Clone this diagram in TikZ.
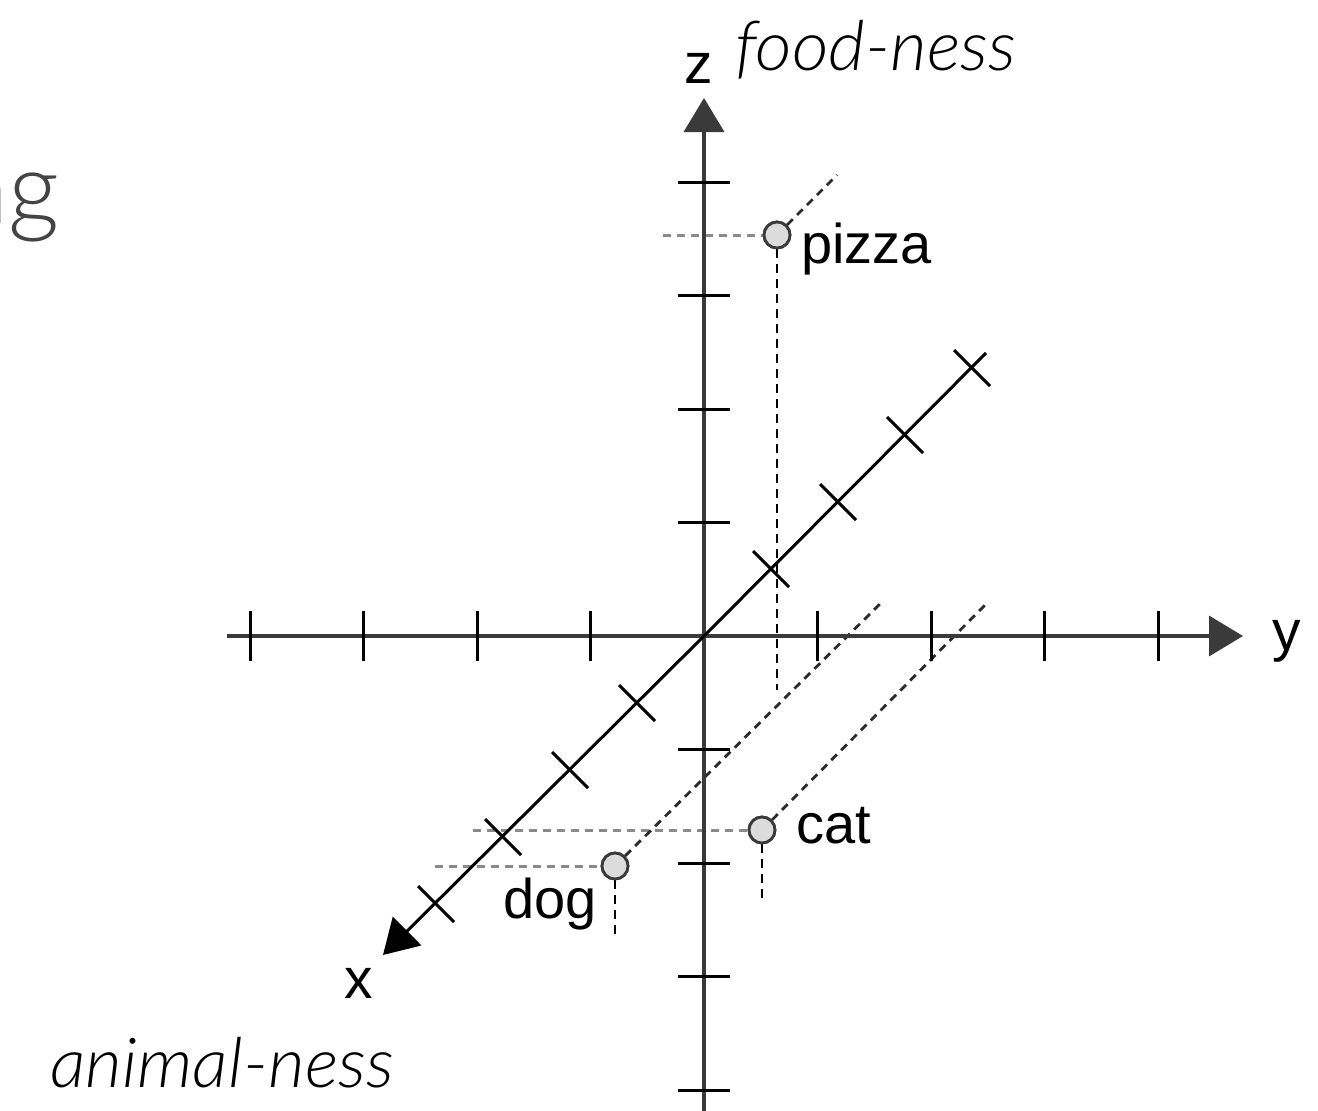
\documentclass[tikz,border=0pt]{standalone}
\usepackage{fontspec}
\setmainfont{Liberation Sans}
\newfontfamily\lightfont{Lato}[UprightFont={* Light}, ItalicFont={* Light Italic}]
\newfontfamily\lightwide{Lato}[UprightFont={* Light}, ItalicFont={* Light Italic}, FakeStretch=1.03]
\usetikzlibrary{arrows.meta,calc}
\definecolor{axisgray}{HTML}{3A3A3A}
\definecolor{hdash}{HTML}{8A8A8A}
\definecolor{ddash}{HTML}{2A2A2A}
\definecolor{ptfill}{HTML}{DCDCDC}
\definecolor{slidegray}{HTML}{444444}
\tikzset{
  axisline/.style={line width=3.8pt, draw=axisgray},
  xaxisline/.style={line width=3pt, draw=black},
  tickmark/.style={line width=3pt, draw=black},
  hdashed/.style={line width=3pt, draw=hdash, dash pattern=on 8pt off 6pt},
  ddashed/.style={line width=2.8pt, draw=ddash, dash pattern=on 8pt off 6pt},
  vdashed/.style={line width=2.8pt, draw=black, dash pattern=on 9pt off 6pt},
  point/.style={circle, draw=axisgray, line width=2.8pt, fill=ptfill, minimum size=26pt, inner sep=0pt},
  lbl/.style={inner sep=0pt, anchor=base west, font=\fontsize{56}{60}\selectfont},
  axlbl/.style={inner sep=0pt, anchor=base west, font=\fontsize{57}{60}\selectfont},
  slidetxt/.style={inner sep=0pt, anchor=base west, font=\fontsize{69}{72}\lightwide\itshape},
  arrowtip/.style={-{Triangle[length=34pt,width=40pt]}}
}
\begin{document}
\begin{tikzpicture}[x=1pt,y=-1pt]
\useasboundingbox (0,0) rectangle (1318,1111);
\begin{scope}
\clip (0,0) rectangle (1318,1111);
% slide fragment
\node[inner sep=0pt, anchor=base east, font=\fontsize{100}{104}\lightfont, text=slidegray] (ng) at (60,223) {ng};

\coordinate (O) at (704,636);
\coordinate (yL) at (227,636);
\coordinate (yR) at (1243,636);
\coordinate (zB) at (704,1120);
\coordinate (zT) at (704,98);
\coordinate (xUR) at (986,353);
\coordinate (xDL) at (383,955);

% data points
\node[point] (pizza) at (777,235) {};
\node[point] (cat) at (762,830) {};
\node[point] (dog) at (615,866) {};
\coordinate (pizzaH) at (663,235);
\coordinate (pizzaD) at (837,175);
\coordinate (pizzaV) at (777,690);
\coordinate (catH) at (473,830);
\coordinate (catD) at (988,602);
\coordinate (catV) at (762,900);
\coordinate (dogH) at (435,866);
\coordinate (dogD) at (882,602);
\coordinate (dogV) at (615,936);

\draw[hdashed] (pizzaH) -- (pizza.west);
\draw[ddashed] (pizza.north east) -- (pizzaD);
\draw[vdashed] (pizza.south) -- (pizzaV);
\draw[hdashed] (catH) -- (cat.west);
\draw[ddashed] (cat.north east) -- (catD);
\draw[vdashed] (cat.south) -- (catV);
\draw[hdashed] (dogH) -- (dog.west);
\draw[ddashed] (dog.north east) -- (dogD);
\draw[vdashed] (dog.south) -- (dogV);

% axes
\draw[axisline, arrowtip] (yL) -- (yR);
\draw[axisline, arrowtip] (zB) -- (zT);
\draw[xaxisline] (xUR) -- (O);
\draw[xaxisline, arrowtip] (O) -- (xDL);

% ticks on y axis
\foreach \k in {-4,-3,-2,-1,1,2,3,4}
  \draw[tickmark] ($(O)+(113.5*\k,-25)$) -- ($(O)+(113.5*\k,25)$);
% ticks on z axis
\foreach \k in {-4,-3,-2,-1,1,2,3,4}
  \draw[tickmark] ($(O)+(-26,113.5*\k)$) -- ($(O)+(26,113.5*\k)$);
% crosses on x axis
\foreach \k in {-4,-3,-2,-1,1,2,3,4}
  \draw[tickmark] ($(O)+(67*\k-18,-67*\k-18)$) -- ($(O)+(67*\k+18,-67*\k+18)$);

% redraw points on top
\node[point] at (pizza) {};
\node[point] at (cat) {};
\node[point] at (dog) {};

% labels
\node[lbl] (pizzalbl) at (801,263) {pizza};
\node[lbl] (catlbl) at (796,843) {cat};
\node[lbl] (doglbl) at (503,918) {dog};
\node[axlbl] (zlbl) at (684,83) {z};
\node[axlbl] (ylbl) at (1272,650) {y};
\node[axlbl] (xlbl) at (344,998) {x};
\node[slidetxt] (food) at (735,70) {food-ness};
\node[slidetxt] (animal) at (50,1087) {animal-ness};
\end{scope}
\end{tikzpicture}
\end{document}
